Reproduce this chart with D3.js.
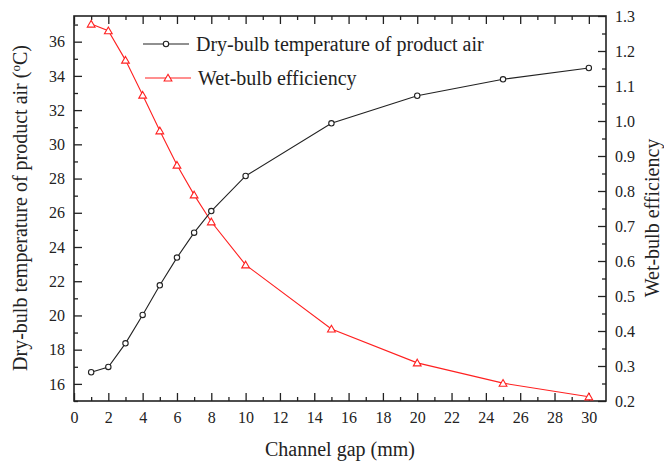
<!DOCTYPE html>
<html>
<head>
<meta charset="utf-8">
<script src="https://cdn.jsdelivr.net/npm/d3@7"></script>
<style>
  body { margin: 0; background: #fff; }
  svg { display: block; }
  text { font-family: "Liberation Serif", "Times New Roman", serif; fill: #222; }
</style>
</head>
<body>
<div id="chart"></div>
<script>
// Channel gap (mm) for each simulated case
const channelGap = [1, 2, 3, 4, 5, 6, 7, 8, 10, 15, 20, 25, 30];
// Dry-bulb temperature of product air (°C)
const dryBulbTemp = [16.68, 16.99, 18.37, 20.03, 21.76, 23.38, 24.84, 26.10, 28.15, 31.23, 32.84, 33.80, 34.46];
// Wet-bulb efficiency (-)
const wetBulbEff = [1.277, 1.258, 1.174, 1.074, 0.972, 0.874, 0.789, 0.712, 0.589, 0.406, 0.309, 0.251, 0.212];

const xTicks = [0, 2, 4, 6, 8, 10, 12, 14, 16, 18, 20, 22, 24, 26, 28, 30];
const leftTicks = [16, 18, 20, 22, 24, 26, 28, 30, 32, 34, 36];
const rightTicks = [0.2, 0.3, 0.4, 0.5, 0.6, 0.7, 0.8, 0.9, 1.0, 1.1, 1.2, 1.3];

const legendLabels = ["Dry-bulb temperature of product air", "Wet-bulb efficiency"];
const seriesColors = ["#222222", "#ff2020"];

const W = 664, H = 463;
const plot = { left: 74, right: 606, top: 16, bottom: 401 };
const serif = '"Liberation Serif", "Times New Roman", serif';

const svg = d3.select("#chart").append("svg")
  .attr("width", W).attr("height", H);

const x = d3.scaleLinear().domain([0, 31]).range([plot.left, plot.right]);
const yL = d3.scaleLinear().domain([15, 37.5]).range([plot.bottom, plot.top]);
const yR = d3.scaleLinear().domain([0.2, 1.3]).range([plot.bottom, plot.top]);

const axisColor = "#222";
const majorLen = 8, minorLen = 4;

function styleAxis(g) {
  g.attr("font-family", serif).attr("font-size", 16);
  g.select(".domain").remove();
  g.selectAll(".tick line").attr("stroke", axisColor).attr("stroke-width", 1.3);
  g.selectAll(".tick text")
    .attr("font-family", serif)
    .style("font-family", serif)
    .style("font-size", "16px")
    .attr("fill", axisColor);
}

// minor tick positions midway between majors
const xMinor = xTicks.slice(0, -1).map((d, i) => (d + xTicks[i + 1]) / 2);
const leftMinor = [15].concat(leftTicks.slice(0, -1).map((d, i) => (d + leftTicks[i + 1]) / 2)).concat([37]);
const rightMinor = rightTicks.slice(0, -1).map((d, i) => (d + rightTicks[i + 1]) / 2);

// bottom axis
svg.append("g").attr("transform", `translate(0,${plot.bottom})`)
  .call(d3.axisBottom(x).tickValues(xTicks).tickSize(-majorLen).tickPadding(11).tickFormat(d3.format("d")))
  .call(styleAxis);
svg.append("g").attr("transform", `translate(0,${plot.bottom})`)
  .call(d3.axisBottom(x).tickValues(xMinor).tickSize(-minorLen).tickFormat(""))
  .call(styleAxis);

// top mirror ticks
svg.append("g").attr("transform", `translate(0,${plot.top})`)
  .call(d3.axisTop(x).tickValues(xTicks).tickSize(-majorLen).tickFormat(""))
  .call(styleAxis);
svg.append("g").attr("transform", `translate(0,${plot.top})`)
  .call(d3.axisTop(x).tickValues(xMinor).tickSize(-minorLen).tickFormat(""))
  .call(styleAxis);

// left axis (temperature)
svg.append("g").attr("transform", `translate(${plot.left},0)`)
  .call(d3.axisLeft(yL).tickValues(leftTicks).tickSize(-majorLen).tickPadding(9).tickFormat(d3.format("d")))
  .call(styleAxis);
svg.append("g").attr("transform", `translate(${plot.left},0)`)
  .call(d3.axisLeft(yL).tickValues(leftMinor).tickSize(-minorLen).tickFormat(""))
  .call(styleAxis);

// right axis (efficiency)
svg.append("g").attr("transform", `translate(${plot.right},0)`)
  .call(d3.axisRight(yR).tickValues(rightTicks).tickSize(-majorLen).tickPadding(9).tickFormat(d3.format(".1f")))
  .call(styleAxis);
svg.append("g").attr("transform", `translate(${plot.right},0)`)
  .call(d3.axisRight(yR).tickValues(rightMinor).tickSize(-minorLen).tickFormat(""))
  .call(styleAxis);

// plot frame
svg.append("rect")
  .attr("x", plot.left).attr("y", plot.top)
  .attr("width", plot.right - plot.left).attr("height", plot.bottom - plot.top)
  .attr("fill", "none").attr("stroke", axisColor).attr("stroke-width", 1.6);

// series
const dryData = channelGap.map((g, i) => [g, dryBulbTemp[i]]);
const wetData = channelGap.map((g, i) => [g, wetBulbEff[i]]);

const triangle = d3.symbol().type(d3.symbolTriangle).size(26);

svg.append("path")
  .datum(wetData)
  .attr("fill", "none").attr("stroke", seriesColors[1]).attr("stroke-width", 1.1)
  .attr("d", d3.line().x(d => x(d[0])).y(d => yR(d[1])));

svg.append("path")
  .datum(dryData)
  .attr("fill", "none").attr("stroke", seriesColors[0]).attr("stroke-width", 1.1)
  .attr("d", d3.line().x(d => x(d[0])).y(d => yL(d[1])));

svg.append("g").selectAll("path")
  .data(wetData).join("path")
  .attr("transform", d => `translate(${x(d[0])},${yR(d[1]) + 0.8})`)
  .attr("d", triangle)
  .attr("fill", "#fff").attr("stroke", seriesColors[1]).attr("stroke-width", 1.1);

svg.append("g").selectAll("circle")
  .data(dryData).join("circle")
  .attr("cx", d => x(d[0])).attr("cy", d => yL(d[1])).attr("r", 2.7)
  .attr("fill", "#fff").attr("stroke", seriesColors[0]).attr("stroke-width", 1.1);

// legend
const legend = svg.append("g");
const legendRows = [
  { x1: 143, x2: 189, y: 44, tx: 196 },
  { x1: 145, x2: 191, y: 78, tx: 198 }
];
legendRows.forEach((r, i) => {
  legend.append("line")
    .attr("x1", r.x1).attr("x2", r.x2).attr("y1", r.y).attr("y2", r.y)
    .attr("stroke", seriesColors[i]).attr("stroke-width", 1.1);
  const cx = (r.x1 + r.x2) / 2;
  if (i === 0) {
    legend.append("circle").attr("cx", cx).attr("cy", r.y).attr("r", 2.7)
      .attr("fill", "#fff").attr("stroke", seriesColors[0]).attr("stroke-width", 1.1);
  } else {
    legend.append("path").attr("transform", `translate(${cx},${r.y + 0.8})`)
      .attr("d", triangle)
      .attr("fill", "#fff").attr("stroke", seriesColors[1]).attr("stroke-width", 1.1);
  }
  legend.append("text")
    .attr("x", r.tx).attr("y", r.y + 6.5)
    .style("font-size", "20px")
    .text(legendLabels[i]);
});

// axis titles
svg.append("text")
  .attr("x", (plot.left + plot.right) / 2).attr("y", 456)
  .attr("text-anchor", "middle").style("font-size", "20px")
  .text("Channel gap (mm)");

const leftTitle = svg.append("text")
  .attr("transform", "translate(26.5,208) rotate(-90)")
  .attr("text-anchor", "middle").style("font-size", "20px");
leftTitle.append("tspan").text("Dry-bulb temperature of product air (");
leftTitle.append("tspan").attr("dy", -7).style("font-size", "13px").text("o");
leftTitle.append("tspan").attr("dy", 7).text("C)");

svg.append("text")
  .attr("transform", "translate(659,218) rotate(-90)")
  .attr("text-anchor", "middle").style("font-size", "20px")
  .text("Wet-bulb efficiency");
</script>
</body>
</html>
